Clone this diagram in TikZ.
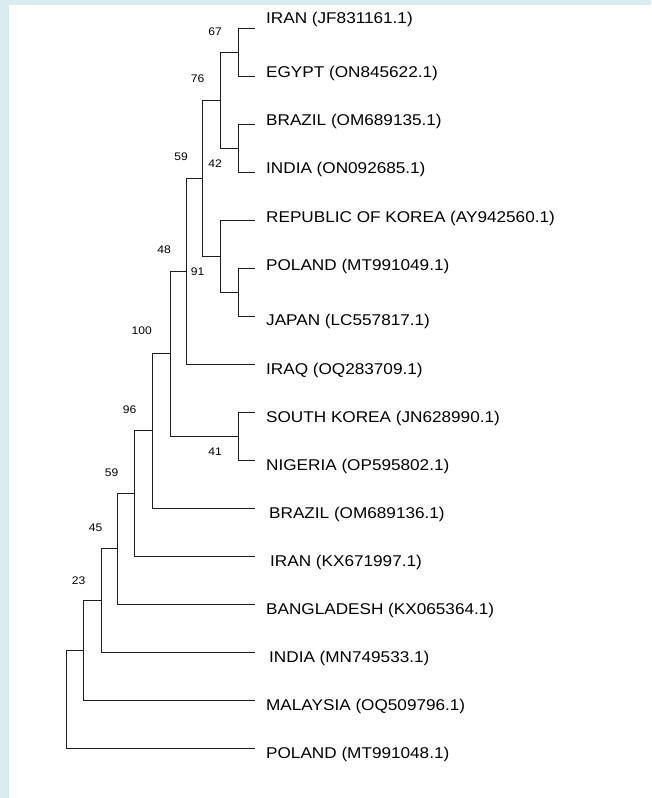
\documentclass[tikz,border=0pt]{standalone}
\usepackage{fontspec}
\setmainfont{Liberation Sans}[FakeStretch=1.1]
\usepackage{tikz}
\definecolor{frameblue}{RGB}{216,236,242}
\definecolor{branchgray}{RGB}{30,30,30}
\tikzset{
  br/.style={draw=branchgray,line width=1pt},
  taxon/.style={anchor=west,inner sep=0pt,text height=11pt,text depth=0pt,
    font=\fontsize{15.6}{18}\selectfont,text=black},
  boot/.style={anchor=east,inner sep=0pt,font=\fontsize{11}{12}\selectfont,text=black}
}

\begin{document}
\begin{tikzpicture}[x=1pt,y=-1pt]
\useasboundingbox (0,0) rectangle (651,798);
\fill[frameblue] (0,0) rectangle (651,798);
\fill[white] (9,5) rectangle (651,798);
% leaf ends
\coordinate (l1) at (255,28);
\coordinate (l2) at (255,76);
\coordinate (l3) at (255,124);
\coordinate (l4) at (255,172);
\coordinate (l5) at (255,220);
\coordinate (l6) at (255,268);
\coordinate (l7) at (255,316);
\coordinate (l8) at (255,364);
\coordinate (l9) at (255,412);
\coordinate (l10) at (255,460);
\coordinate (l11) at (255,508);
\coordinate (l12) at (255,556);
\coordinate (l13) at (255,604);
\coordinate (l14) at (255,652);
\coordinate (l15) at (255,700);
\coordinate (l16) at (255,748);
% inner nodes
\coordinate (n67) at (238,52);
\coordinate (n42) at (238,148);
\coordinate (n76) at (220,100);
\coordinate (npj) at (238,292);
\coordinate (n91) at (220,256);
\coordinate (n59a) at (202,178);
\coordinate (n48) at (186,271);
\coordinate (n41) at (238,436);
\coordinate (n100) at (170,353.5);
\coordinate (n96) at (152,430.75);
\coordinate (n59b) at (134,493.4);
\coordinate (n45) at (117,548.7);
\coordinate (n23) at (101,600.3);
\coordinate (nmy) at (83,650);
\coordinate (root) at (66,699);
% branches
\draw[br] (n67) |- (l1) (n67) |- (l2);
\draw[br] (n42) |- (l3) (n42) |- (l4);
\draw[br] (n76) |- (n67) (n76) |- (n42);
\draw[br] (npj) |- (l6) (npj) |- (l7);
\draw[br] (n91) |- (l5) (n91) |- (npj);
\draw[br] (n59a) |- (n76) (n59a) |- (n91);
\draw[br] (n48) |- (n59a) (n48) |- (l8);
\draw[br] (n41) |- (l9) (n41) |- (l10);
\draw[br] (n100) |- (n48) (n100) |- (n41);
\draw[br] (n96) |- (n100) (n96) |- (l11);
\draw[br] (n59b) |- (n96) (n59b) |- (l12);
\draw[br] (n45) |- (n59b) (n45) |- (l13);
\draw[br] (n23) |- (n45) (n23) |- (l14);
\draw[br] (nmy) |- (n23) (nmy) |- (l15);
\draw[br] (root) |- (nmy) (root) |- (l16);
% bootstrap values
\node[boot] (b67) at (222,32) {67};
\node[boot] (b42) at (222,164) {42};
\node[boot] (b76) at (204.5,79) {76};
\node[boot] (b91) at (204.5,272) {91};
\node[boot] (b59a) at (188,157) {59};
\node[boot] (b48) at (171,250) {48};
\node[boot] (b41) at (222,452) {41};
\node[boot] (b100) at (152,331) {100};
\node[boot] (b96) at (136.5,410) {96};
\node[boot] (b59b) at (118.5,473) {59};
\node[boot] (b45) at (102.5,528) {45};
\node[boot] (b23) at (85.5,581) {23};
% taxa
\node[taxon] (t1) at (266,18) {IRAN (JF831161.1)};
\node[taxon] (t2) at (266,72) {EGYPT (ON845622.1)};
\node[taxon] (t3) at (266,120) {BRAZIL (OM689135.1)};
\node[taxon] (t4) at (266,168) {INDIA (ON092685.1)};
\node[taxon] (t5) at (266,217) {REPUBLIC OF KOREA (AY942560.1)};
\node[taxon] (t6) at (266,265) {POLAND (MT991049.1)};
\node[taxon] (t7) at (266,320) {JAPAN (LC557817.1)};
\node[taxon] (t8) at (266,369) {IRAQ (OQ283709.1)};
\node[taxon] (t9) at (266,417) {SOUTH KOREA (JN628990.1)};
\node[taxon] (t10) at (266,465) {NIGERIA (OP595802.1)};
\node[taxon] (t11) at (269,513) {BRAZIL (OM689136.1)};
\node[taxon] (t12) at (270,561) {IRAN (KX671997.1)};
\node[taxon] (t13) at (266,609) {BANGLADESH (KX065364.1)};
\node[taxon] (t14) at (269,657) {INDIA (MN749533.1)};
\node[taxon] (t15) at (266,705) {MALAYSIA (OQ509796.1)};
\node[taxon] (t16) at (266,753) {POLAND (MT991048.1)};
\end{tikzpicture}
\end{document}
